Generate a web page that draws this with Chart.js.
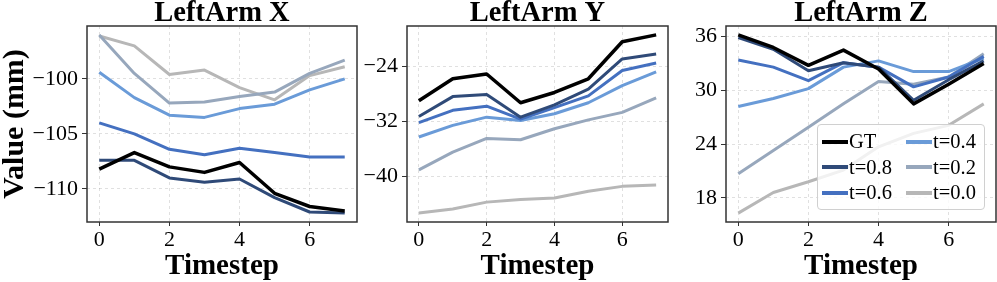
<!DOCTYPE html>
<html>
<head>
<meta charset="utf-8">
<script src="https://cdn.jsdelivr.net/npm/chart.js@4"></script>
<style>
  body { margin: 0; background: #fff; }
  #wrap { position: relative; width: 997px; height: 282px; overflow: hidden; }
  .panel { position: absolute; top: 0; height: 282px; }
  #legend {
    position: absolute; left: 817px; top: 124px; width: 168px; height: 86px;
    box-sizing: border-box; padding: 4px 0 0 4px;
    border: 1px solid #d0d0d0; border-radius: 4px;
    background: rgba(255, 255, 255, 0.8);
    display: grid; grid-template-columns: 84px 80px; grid-auto-flow: column;
    grid-template-rows: repeat(3, 25.5px);
    font-family: "Liberation Serif", serif; font-size: 20.5px; color: #000;
  }
  .item { display: flex; align-items: center; white-space: nowrap; }
  .swatch { width: 26px; height: 4px; margin-right: 1px; }
</style>
</head>
<body>
<div id="wrap">
  <div class="panel" style="left:0;width:360px"><canvas id="cX" width="360" height="282"></canvas></div>
  <div class="panel" style="left:360px;width:310px"><canvas id="cY" width="310" height="282"></canvas></div>
  <div class="panel" style="left:670px;width:327px"><canvas id="cZ" width="327" height="282"></canvas></div>
  <div id="legend"></div>
</div>
<script>
// Dados
const timesteps = [0, 1, 2, 3, 4, 5, 6, 7];
const seriesNames = ['GT', 't=0.8', 't=0.6', 't=0.4', 't=0.2', 't=0.0'];
const seriesColors = ['#000000', '#2f4a78', '#4470c0', '#6a9bd8', '#97a7bc', '#b7b7b7'];

// LeftArm X
const xGT  = [-108.2, -106.7, -108.0, -108.5, -107.6, -110.4, -111.6, -112.0];
const xT08 = [-107.4, -107.4, -109.0, -109.4, -109.1, -110.8, -112.1, -112.2];
const xT06 = [-104.0, -105.0, -106.4, -106.9, -106.3, -106.7, -107.1, -107.1];
const xT04 = [-99.4, -101.7, -103.3, -103.5, -102.7, -102.3, -101.0, -100.0];
const xT02 = [-96.0, -99.5, -102.2, -102.1, -101.6, -101.2, -99.5, -98.3];
const xT00 = [-96.1, -97.0, -99.6, -99.2, -100.8, -101.9, -99.7, -98.9];

// LeftArm Y
const yGT  = [-29.0, -25.8, -25.1, -29.3, -27.8, -25.8, -20.4, -19.4];
const yT08 = [-31.3, -28.4, -28.1, -31.4, -29.6, -27.3, -22.9, -22.2];
const yT06 = [-32.2, -30.4, -29.8, -31.7, -30.0, -28.3, -24.6, -23.5];
const yT04 = [-34.3, -32.6, -31.4, -31.9, -30.9, -29.3, -26.8, -24.8];
const yT02 = [-39.1, -36.5, -34.5, -34.7, -33.1, -31.8, -30.7, -28.6];
const yT00 = [-45.4, -44.8, -43.8, -43.4, -43.2, -42.2, -41.5, -41.3];

// LeftArm Z
const zGT  = [36.2, 34.8, 32.8, 34.5, 32.4, 28.5, 30.7, 33.0];
const zT08 = [35.9, 34.6, 32.2, 33.1, 32.6, 28.9, 31.2, 33.3];
const zT06 = [33.4, 32.6, 31.1, 33.1, 32.6, 30.4, 31.5, 33.8];
const zT04 = [28.2, 29.1, 30.2, 32.6, 33.3, 32.1, 32.1, 33.6];
const zT02 = [20.7, 23.3, 25.9, 28.5, 31.0, 30.7, 31.5, 34.1];
const zT00 = [16.3, 18.6, 19.8, 21.1, 23.7, 25.2, 26.1, 28.5];

const xTicks = [0, 2, 4, 6];
const yTicksX = [-110, -105, -100];
const yTicksY = [-40, -32, -24];
const yTicksZ = [18, 24, 30, 36];

const serif = '"Liberation Serif", "Times New Roman", serif';
const minusLabel = v => String(v).replace('-', '\u2212');

// moldura + título centrado sobre a área do gráfico
const framePlugin = {
  id: 'frame',
  afterDraw(chart, args, opts) {
    const { ctx, chartArea: a } = chart;
    ctx.save();
    ctx.strokeStyle = '#333';
    ctx.lineWidth = 1.5;
    ctx.strokeRect(a.left, a.top, a.right - a.left, a.bottom - a.top);
    ctx.fillStyle = '#000';
    ctx.font = 'bold 28.5px ' + serif;
    ctx.textAlign = 'center';
    ctx.textBaseline = 'alphabetic';
    ctx.fillText(opts.text, (a.left + a.right) / 2, 21);
    ctx.restore();
  }
};

function makePanel(id, title, series, yTicks, yWidth, padRight, showYTitle) {
  const all = series.flat();
  const lo = Math.min(...all), hi = Math.max(...all);
  const m = (hi - lo) * 0.05;
  new Chart(document.getElementById(id), {
    type: 'line',
    data: {
      datasets: series.map((vals, i) => ({
        label: seriesNames[i],
        data: timesteps.map((t, j) => ({ x: t, y: vals[j] })),
        borderColor: seriesColors[i],
        borderWidth: i === 0 ? 3.5 : 3,
        pointRadius: 0,
        tension: 0,
        borderJoinStyle: 'round',
        fill: false
      }))
    },
    options: {
      responsive: false,
      animation: false,
      layout: { padding: { top: 26, right: padRight, left: 0, bottom: 0 } },
      plugins: {
        legend: { display: false },
        tooltip: { enabled: false },
        frame: { text: title }
      },
      scales: {
        x: {
          type: 'linear',
          min: -0.35,
          max: 7.35,
          afterBuildTicks: s => { s.ticks = xTicks.map(v => ({ value: v })); },
          afterFit: s => { s.height = 60; },
          ticks: { color: '#000', font: { family: serif, size: 22 }, padding: 1, maxRotation: 0 },
          grid: { color: 'rgba(0,0,0,0.12)', tickColor: '#333', tickLength: 4, tickBorderDash: [] },
          border: { display: false, dash: [3, 3] },
          title: {
            display: true, text: 'Timestep', color: '#000',
            font: { family: serif, size: 29, weight: 'bold', lineHeight: 1 },
            padding: { top: 0, bottom: 1 }
          }
        },
        y: {
          min: lo - m,
          max: hi + m,
          afterBuildTicks: s => { s.ticks = yTicks.map(v => ({ value: v })); },
          afterFit: s => { s.width = yWidth; },
          ticks: { color: '#000', font: { family: serif, size: 22 }, padding: 4, callback: minusLabel },
          grid: { color: 'rgba(0,0,0,0.12)', tickColor: '#333', tickLength: 5, tickBorderDash: [] },
          border: { display: false, dash: [3, 3] },
          title: {
            display: showYTitle, text: 'Value (mm)', color: '#000',
            font: { family: serif, size: 30, weight: 'bold', lineHeight: 1 },
            padding: { top: 0, bottom: 0 }
          }
        }
      }
    },
    plugins: [framePlugin]
  });
}

makePanel('cX', 'LeftArm X', [xGT, xT08, xT06, xT04, xT02, xT00], yTicksX, 87, 3, true);
makePanel('cY', 'LeftArm Y', [yGT, yT08, yT06, yT04, yT02, yT00], yTicksY, 47, 2, false);
makePanel('cZ', 'LeftArm Z', [zGT, zT08, zT06, zT04, zT02, zT00], yTicksZ, 56, 1, false);

// legenda em HTML dentro do painel Z
const legend = document.getElementById('legend');
seriesNames.forEach((name, i) => {
  const item = document.createElement('div');
  item.className = 'item';
  item.innerHTML = '<span class="swatch" style="background:' + seriesColors[i] + '"></span>' + name;
  legend.appendChild(item);
});
</script>
</body>
</html>
